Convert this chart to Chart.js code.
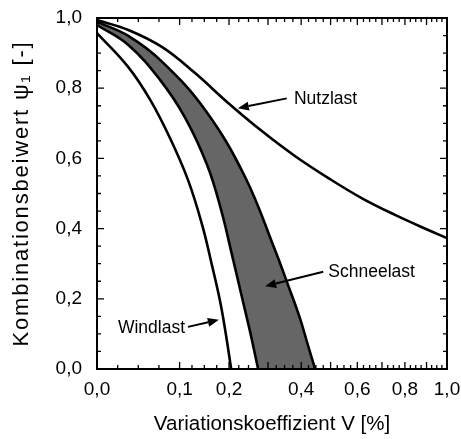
<!DOCTYPE html>
<html>
<head>
<meta charset="utf-8">
<script src="https://cdn.jsdelivr.net/npm/chart.js@4/dist/chart.umd.min.js"></script>
<style>
  html, body { margin: 0; padding: 0; background: #fff; }
  #wrap { width: 461px; height: 439px; position: relative; }
</style>
</head>
<body>
<div id="wrap"><canvas id="c"></canvas></div>
<script>
// ---- data (V = Variationskoeffizient, psi = Kombinationsbeiwert) ----
const nutzV   = [0, 0.028, 0.072, 0.128, 0.198, 0.283, 0.38, 0.492, 0.617, 0.756, 0.908, 1.0];
const nutzPsi = [0.994, 0.966, 0.917, 0.843, 0.758, 0.678, 0.607, 0.544, 0.487, 0.439, 0.396, 0.373];

const schneeObenV   = [0, 0.028, 0.072, 0.148, 0.239, 0.32, 0.359, 0.396, 0.422, 0.446];
const schneeObenPsi = [0.989, 0.949, 0.875, 0.738, 0.547, 0.339, 0.239, 0.145, 0.068, 0];

const schneeUntenV   = [0, 0.028, 0.069, 0.11, 0.152, 0.182, 0.207, 0.231, 0.252, 0.273];
const schneeUntenPsi = [0.98, 0.923, 0.823, 0.715, 0.581, 0.453, 0.325, 0.205, 0.105, 0];

const windV   = [0, 0.028, 0.055, 0.084, 0.115, 0.142, 0.162, 0.18, 0.193, 0.205];
const windPsi = [0.957, 0.86, 0.766, 0.658, 0.538, 0.41, 0.296, 0.191, 0.097, 0];

// ticks
const xLabelTicks = [0, 0.1, 0.2, 0.4, 0.6, 0.8, 1.0];
const xMajorTicks = [0, 0.1, 0.2, 0.3, 0.4, 0.5, 0.6, 0.7, 0.8, 0.9, 1.0];
const yLabelTicks = [0, 0.2, 0.4, 0.6, 0.8, 1.0];

// annotations
const annoText  = ['Nutzlast', 'Schneelast', 'Windlast'];
const annoTextV = [0.377, 0.492, 0.0174];
const annoTextP = [0.768, 0.277, 0.117];
const annoFromV = [0.355, 0.474, 0.1148];
const annoFromP = [0.771, 0.277, 0.12];
const annoToV   = [0.221, 0.292, 0.177];
const annoToP   = [0.743, 0.236, 0.14];

const yTitle = 'Kombinationsbeiwert ψ₁ [-]';

// ---- custom non-linear x scale (square-root type) ----
const OFF = 0.02;
class VScale extends Chart.LinearScale {
  _g(v) { return Math.sqrt(Math.max(v, 0) + OFF); }
  getPixelForValue(v) {
    const lo = this._g(this.min), hi = this._g(this.max);
    return this.getPixelForDecimal((this._g(v) - lo) / (hi - lo));
  }
  getValueForPixel(p) {
    const lo = this._g(this.min), hi = this._g(this.max);
    const s = lo + this.getDecimalForPixel(p) * (hi - lo);
    return s * s - OFF;
  }
}
VScale.id = 'vsqrt';
VScale.defaults = {};
Chart.register(VScale);

const pts = (xs, ys) => xs.map((v, i) => ({ x: v, y: ys[i] }));
const upper = pts(schneeObenV, schneeObenPsi);
const lower = pts(schneeUntenV, schneeUntenPsi);
// closed outline of the band; end points doubled so the spline matches the border lines
const shape = upper.concat([upper[upper.length - 1]], [lower[lower.length - 1]], lower.slice().reverse());

const FONT = "'Liberation Sans', Arial, sans-serif";
const fmt = v => v.toFixed(1).replace('.', ',');

const frameTicks = {
  id: 'frameTicks',
  afterDatasetsDraw(chart) {
    const { ctx, chartArea: { left, right, top, bottom }, scales: { x, y } } = chart;
    ctx.save();
    ctx.strokeStyle = '#000';
    ctx.lineWidth = 1.3;
    ctx.beginPath();
    const MAJ = 7, MIN = 4;
    for (let i = 0; i < xMajorTicks.length; i++) {
      const p = x.getPixelForValue(xMajorTicks[i]);
      ctx.moveTo(p, bottom); ctx.lineTo(p, bottom - MAJ);
      ctx.moveTo(p, top); ctx.lineTo(p, top + MAJ);
      if (i < xMajorTicks.length - 1) {
        const q = x.getPixelForValue(xMajorTicks[i + 1]);
        for (let k = 1; k < 4; k++) {
          const m = p + (q - p) * k / 4;
          ctx.moveTo(m, bottom); ctx.lineTo(m, bottom - MIN);
          ctx.moveTo(m, top); ctx.lineTo(m, top + MIN);
        }
      }
    }
    for (let k = 0; k <= 20; k++) {
      const p = y.getPixelForValue(k * 0.05);
      const L = (k % 4 === 0) ? MAJ : MIN;
      ctx.moveTo(left, p); ctx.lineTo(left + L, p);
      ctx.moveTo(right, p); ctx.lineTo(right - L, p);
    }
    ctx.stroke();
    ctx.lineWidth = 2;
    ctx.strokeRect(left, top, right - left, bottom - top);

    // annotations
    ctx.fillStyle = '#000';
    ctx.font = "17.5px " + FONT;
    ctx.textBaseline = 'middle';
    ctx.textAlign = 'left';
    for (let i = 0; i < annoText.length; i++) {
      ctx.fillText(annoText[i], x.getPixelForValue(annoTextV[i]), y.getPixelForValue(annoTextP[i]));
      const x0 = x.getPixelForValue(annoFromV[i]), y0 = y.getPixelForValue(annoFromP[i]);
      const x1 = x.getPixelForValue(annoToV[i]), y1 = y.getPixelForValue(annoToP[i]);
      const ang = Math.atan2(y1 - y0, x1 - x0);
      const HL = 11, HW = 4.5;
      const bx = x1 - HL * Math.cos(ang), by = y1 - HL * Math.sin(ang);
      ctx.lineWidth = 2;
      ctx.beginPath(); ctx.moveTo(x0, y0); ctx.lineTo(bx, by); ctx.stroke();
      ctx.beginPath();
      ctx.moveTo(x1, y1);
      ctx.lineTo(bx + HW * Math.sin(ang), by - HW * Math.cos(ang));
      ctx.lineTo(bx - HW * Math.sin(ang), by + HW * Math.cos(ang));
      ctx.closePath(); ctx.fill();
    }

    // y axis title (wider letter spacing, as in the original)
    ctx.translate(22, (top + bottom) / 2);
    ctx.rotate(-Math.PI / 2);
    ctx.font = "22px " + FONT;
    ctx.textAlign = 'center';
    ctx.textBaseline = 'middle';
    if ('letterSpacing' in ctx) ctx.letterSpacing = '1.8px';
    ctx.fillText(yTitle, 0, 0);
    ctx.restore();
  }
};

const lineDs = (data) => ({
  data, showLine: true, borderColor: '#000', borderWidth: 2.6,
  pointRadius: 0, tension: 0.4, fill: false, order: 1
});

new Chart(document.getElementById('c'), {
  type: 'scatter',
  data: {
    datasets: [
      { data: shape, showLine: true, borderWidth: 0, borderColor: 'rgba(0,0,0,0)',
        backgroundColor: '#666666', fill: 'shape', pointRadius: 0, tension: 0.4, order: 10 },
      lineDs(upper),
      lineDs(lower),
      lineDs(pts(windV, windPsi)),
      lineDs(pts(nutzV, nutzPsi))
    ]
  },
  options: {
    responsive: true,
    maintainAspectRatio: false,
    animation: false,
    layout: { padding: { top: 18, right: 14, left: 0, bottom: 0 } },
    plugins: { legend: { display: false }, tooltip: { enabled: false } },
    scales: {
      x: {
        type: 'vsqrt', min: 0, max: 1,
        grid: { display: false, drawTicks: false }, border: { display: false },
        afterBuildTicks: s => { s.ticks = xLabelTicks.map(v => ({ value: v })); },
        afterFit: s => { s.height = 70; s.paddingLeft = 0; s.paddingRight = 0; },
        ticks: { autoSkip: false, maxRotation: 0, padding: 9, color: '#000',
                 font: { family: FONT, size: 19 }, callback: v => fmt(v) },
        title: { display: true, text: 'Variationskoeffizient V [%]', color: '#000',
                 font: { family: FONT, size: 20.5 }, padding: { top: 0, bottom: 2 } }
      },
      y: {
        type: 'linear', min: 0, max: 1,
        grid: { display: false, drawTicks: false }, border: { display: false },
        afterBuildTicks: s => { s.ticks = yLabelTicks.map(v => ({ value: v })); },
        afterFit: s => { s.width = 97; s.paddingTop = 0; s.paddingBottom = 0; },
        ticks: { autoSkip: false, padding: 15, color: '#000',
                 font: { family: FONT, size: 19 }, callback: v => fmt(v) },
        title: { display: false }
      }
    }
  },
  plugins: [frameTicks]
});
</script>
</body>
</html>
